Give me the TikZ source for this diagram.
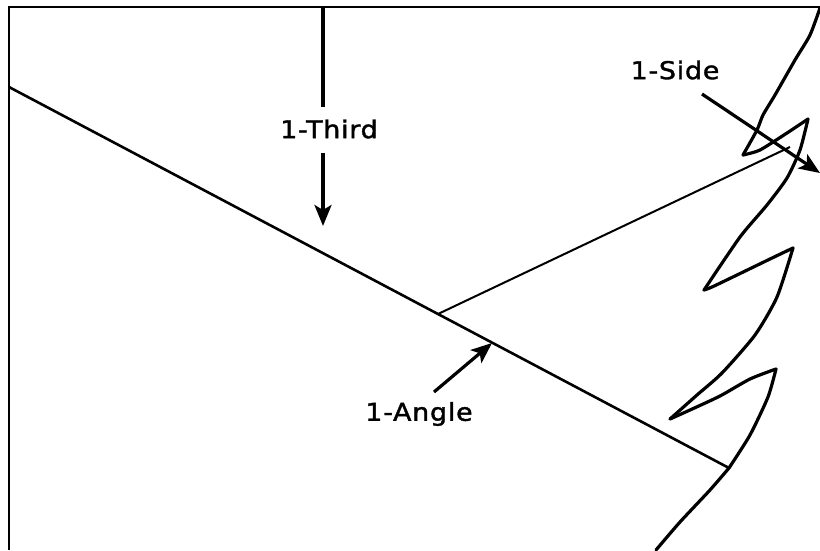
\documentclass[tikz,border=0pt]{standalone}
\usepackage{fontspec}
\setmainfont[FakeStretch=1.1,LetterSpace=3,FakeBold=1.5]{DejaVu Sans}
\usetikzlibrary{arrows.meta}
\tikzset{
    frameline/.style = {line width=1.5pt},
    bladeline/.style = {line width=3.2pt, line join=round, line cap=round},
    mainline/.style = {line width=2.6pt},
    thinline/.style = {line width=2pt},
    pointer/.style = {line width=3.2pt, -{Stealth[length=21pt, width=17pt, inset=5pt]}},
    plainpointer/.style = {line width=3.2pt},
    lbl/.style = {font=\fontsize{24.5}{26}\selectfont, inner sep=0pt}
}

\begin{document}
\begin{tikzpicture}[x=1pt, y=-1pt]
    \useasboundingbox (0,0) rectangle (820,550);

    % Frame
    \draw[frameline] (9,550) -- (9,7) -- (820,7);

    % Saw blade, one tooth at a time
    \draw[bladeline] plot[smooth, tension=0.4] coordinates {(820,8) (810,35) (795,60) (775,95) (763,115) (757,130) (743,155)};
    \draw[bladeline] plot[smooth, tension=0.4] coordinates {(743,155) (760,150) (787,133) (808,119)};
    \draw[bladeline] plot[smooth, tension=0.4] coordinates {(808,119) (800,150) (787,178) (767,205) (740,237) (704,290)};
    \draw[bladeline] plot[smooth, tension=0.4] coordinates {(704,290) (712,287) (737,275) (770,259) (793,248)};
    \draw[bladeline] plot[smooth, tension=0.4] coordinates {(793,248) (777,297) (755,335) (722,373) (697,395) (670,419)};
    \draw[bladeline] plot[smooth, tension=0.4] coordinates {(670,419) (690,410) (720,396) (750,379) (776,369)};
    \draw[bladeline] plot[smooth, tension=0.4] coordinates {(776,369) (768,397) (750,435) (729,468)};
    \draw[bladeline] plot[smooth, tension=0.4] coordinates {(729,468) (710,490) (680,522) (656,550)};

    % Blade edges
    \coordinate (backstart) at (9,87);
    \coordinate (backend) at (729,468);
    \coordinate (guidestart) at (438,314);
    \coordinate (guideend) at (790,147);
    \draw[mainline] (backstart) -- (backend);
    \draw[thinline] (guidestart) -- (guideend);

    % Labels
    \node[lbl] (thirdlabel) at (329,129) {1-Third};
    \node[lbl] (sidelabel) at (675,70) {1-Side};
    \node[lbl] (anglelabel) at (419,414) {1-Angle};

    % Pointers
    \coordinate (thirdtop) at (323,7);
    \coordinate (thirdmid) at (323,107);
    \coordinate (thirdfrom) at (323,153);
    \coordinate (thirdto) at (323,226);
    \coordinate (sidefrom) at (702,94);
    \coordinate (sideto) at (820,173);
    \coordinate (anglefrom) at (434,392);
    \coordinate (angleto) at (492,343);
    \draw[plainpointer] (thirdtop) -- (thirdmid);
    \draw[pointer] (thirdfrom) -- (thirdto);
    \draw[pointer] (sidefrom) -- (sideto);
    \draw[pointer] (anglefrom) -- (angleto);

\end{tikzpicture}
\end{document}
